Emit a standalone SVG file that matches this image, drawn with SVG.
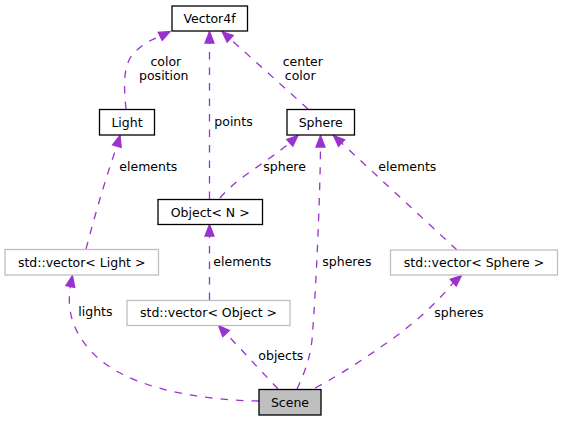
<svg xmlns="http://www.w3.org/2000/svg" width="563" height="421" viewBox="0 0 563 421">
<style>
text{font-family:"DejaVu Sans",sans-serif;font-size:12.5px;fill:#000}
.n{text-anchor:middle}
.doc{fill:#fff;stroke:#000;stroke-width:1.3}
.ext{fill:#fff;stroke:#bfbfbf;stroke-width:1.3}
.cur{fill:#bfbfbf;stroke:#000;stroke-width:1.3}
.e{fill:none;stroke:#9a32cd;stroke-width:1.3;stroke-dasharray:7.5,8}
.a{fill:#9a32cd;stroke:#9a32cd;stroke-width:1.3}
</style>
<rect width="563" height="421" fill="#fff"/>
<g id="connectors">
<path class="e" d="M126,109 C124,88 122,64 135,52 C142,45 150,40 160.2,36.4"/>
<polygon class="a" points="170,31.5 162.2,40.4 158.2,32.4"/>
<text class="n" x="165.8" y="66">color</text>
<text class="n" x="163.8" y="79.5">position</text>
<path class="e" d="M209.5,199 L209.5,43"/>
<polygon class="a" points="209.5,31.5 214,43 205,43"/>
<text x="214.3" y="125.5">points</text>
<path class="e" d="M308,109 L230.2,38.9"/>
<polygon class="a" points="222,31.5 233.2,35.5 227.2,42.2"/>
<text class="n" x="302.8" y="66">center</text>
<text class="n" x="300.2" y="80">color</text>
<path class="e" d="M220,198 C230,186 245,175 260,165 C270,158 280,151 289.8,142.8"/>
<polygon class="a" points="298,135.5 292.8,146.2 286.8,139.5"/>
<text x="263.3" y="170.5">sphere</text>
<path class="e" d="M86,249 C95,215 105,180 116.9,146.1"/>
<polygon class="a" points="120,135.5 121.2,147.4 112.6,144.8"/>
<text x="119.3" y="171">elements</text>
<path class="e" d="M457,250 L341.6,143"/>
<polygon class="a" points="333.5,135.5 344.6,139.7 338.5,146.3"/>
<text x="378.3" y="170.7">elements</text>
<path class="e" d="M209.5,300 L209.5,236"/>
<polygon class="a" points="209.5,224.5 214,236 205,236"/>
<text x="213.3" y="266">elements</text>
<path class="e" d="M259,401 C190,400 120,385 90,350 C72,330 67,310 70.3,286.5"/>
<polygon class="a" points="72.5,275.5 74.7,287.4 65.9,285.6"/>
<text x="78.3" y="316">lights</text>
<path class="e" d="M278,389 L226.1,333.5"/>
<polygon class="a" points="218.5,325.5 229.4,330.4 222.8,336.6"/>
<text x="258.3" y="360">objects</text>
<path class="e" d="M297,389 C303,376 310,360 312,340 C316,290 320,200 320.5,147"/>
<polygon class="a" points="320.5,135.5 325,147 316,147"/>
<text x="322.3" y="266">spheres</text>
<path class="e" d="M315,388 C345,372 370,355 395,337 C415,322 435,305 453.2,282.7"/>
<polygon class="a" points="461.5,275.5 456.2,286.1 450.3,279.3"/>
<text x="434.3" y="317">spheres</text>
</g>
<g id="Vector4f"><rect class="doc" x="172" y="6" width="75.5" height="25"/><text class="n" x="209.5" y="22.5">Vector4f</text></g>
<g id="Light"><rect class="doc" x="99.5" y="109.5" width="55" height="25.5"/><text class="n" x="127" y="126.5">Light</text></g>
<g id="Sphere"><rect class="doc" x="287" y="109.5" width="67.5" height="25.5"/><text class="n" x="320.7" y="126.5">Sphere</text></g>
<g id="ObjectN"><rect class="doc" x="158" y="199.5" width="104.5" height="25"/><text class="n" x="210.2" y="216.5">Object&lt; N &gt;</text></g>
<g id="vectorLight"><rect class="ext" x="5" y="249.5" width="153.5" height="25.5"/><text class="n" x="81.7" y="266.5">std::vector&lt; Light &gt;</text></g>
<g id="vectorObject"><rect class="ext" x="127" y="300.5" width="163" height="25"/><text class="n" x="208.5" y="317">std::vector&lt; Object &gt;</text></g>
<g id="vectorSphere"><rect class="ext" x="390.5" y="250" width="167" height="25"/><text class="n" x="474" y="266.5">std::vector&lt; Sphere &gt;</text></g>
<g id="Scene"><rect class="cur" x="259" y="389.5" width="62" height="25.5"/><text class="n" x="290" y="406.5">Scene</text></g>
</svg>
